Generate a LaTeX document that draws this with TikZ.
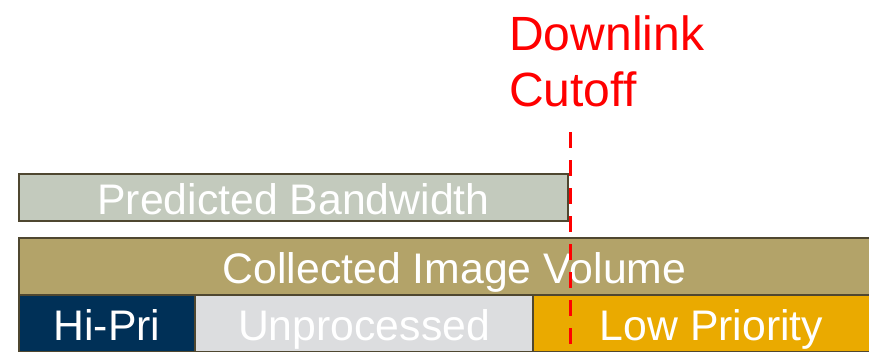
\documentclass[tikz,border=0pt]{standalone}
\usepackage{fontspec}
\setmainfont{Liberation Sans}
\usetikzlibrary{positioning}

\definecolor{edge}{HTML}{4F4730}
\definecolor{predfill}{HTML}{C3CABD}
\definecolor{collfill}{HTML}{B3A369}
\definecolor{hifill}{HTML}{003057}
\definecolor{unfill}{HTML}{DCDDDF}
\definecolor{lowfill}{HTML}{EAAA00}
\definecolor{cutred}{HTML}{FF0000}

\begin{document}
\begin{tikzpicture}[
  x=0.03cm, y=-0.03cm,
  my box/.style={
    draw=edge, line width=0.06cm,
    inner sep=0pt, outer sep=0pt,
    text=white, font=\fontsize{36.5}{42}\selectfont,
    text height=1.03cm, text depth=0pt,
  },
  row box/.style={my box, minimum height=1.71cm},
  cut label/.style={text=cutred, inner sep=0pt, font=\fontsize{41}{48}\selectfont},
  cut line/.style={draw=cutred, line width=0.1cm, dash pattern=on 0.48cm off 0.36cm},
  ]
  \useasboundingbox (0,0) rectangle (869,351);
  \clip (0,0) rectangle (869,351);
  \node[my box, fill=predfill, minimum width=16.47cm, minimum height=1.41cm] (pred) at (293.5,197.5) {Predicted Bandwidth};
  \node[row box, fill=collfill, minimum width=26.13cm] (coll) at (454.5,266.5) {Collected Image Volume};
  \node[row box, fill=hifill, minimum width=5.28cm] (hipri) at (107,323.5) {Hi-Pri};
  \node[row box, fill=unfill, minimum width=10.14cm, right=0pt of hipri] (unproc) {Unprocessed};
  \node[row box, fill=lowfill, minimum width=10.71cm, right=0pt of unproc] (lowpri) {Low Priority};
  % cutoff marker
  \node[cut label, anchor=base west] (dl) at (509,50) {Downlink};
  \node[cut label, anchor=base west] (co) at (509,106) {Cutoff};
  \coordinate (cut top) at (570.5,132);
  \coordinate (cut bot) at (570.5,360);
  \draw[cut line] (cut top) -- (cut bot);
\end{tikzpicture}
\end{document}
